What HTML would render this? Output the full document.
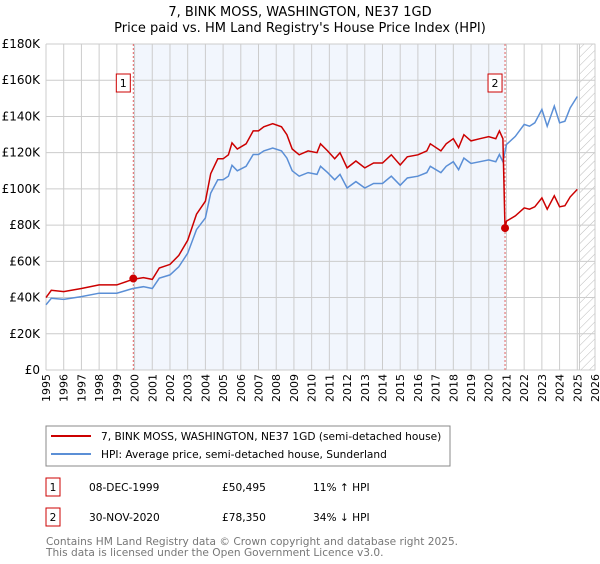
<!DOCTYPE html>
<html><head><meta charset="utf-8"><style>
body{margin:0;background:#fff;font-family:"DejaVu Sans","Liberation Sans",sans-serif;}
svg text{font-family:"DejaVu Sans","Liberation Sans",sans-serif;}
</style></head><body>
<svg id="c" width="600" height="560" xmlns="http://www.w3.org/2000/svg">
<text x="300" y="16" text-anchor="middle" font-size="13">7, BINK MOSS, WASHINGTON, NE37 1GD</text>
<text x="300" y="32" text-anchor="middle" font-size="13">Price paid vs. HM Land Registry's House Price Index (HPI)</text>
<g id="plot"></g>
<g>
<rect x="46" y="426" width="404" height="40" fill="#fff" stroke="#888"/>
<line x1="51" y1="436" x2="91" y2="436" stroke="#cc0000" stroke-width="2"/>
<text x="101" y="440" font-size="10.6">7, BINK MOSS, WASHINGTON, NE37 1GD (semi-detached house)</text>
<line x1="51" y1="454" x2="91" y2="454" stroke="#5b8fd6" stroke-width="2"/>
<text x="101" y="458" font-size="10.6">HPI: Average price, semi-detached house, Sunderland</text>
</g>
<g font-size="10.6">
<rect x="46" y="478" width="14" height="18" fill="#fff" stroke="#cc0000"/><text x="53" y="491" text-anchor="middle">1</text>
<text x="89" y="491">08-DEC-1999</text><text x="222" y="491">£50,495</text><text x="313" y="491">11% ↑ HPI</text>
<rect x="46" y="508" width="14" height="18" fill="#fff" stroke="#cc0000"/><text x="53" y="521" text-anchor="middle">2</text>
<text x="89" y="521">30-NOV-2020</text><text x="222" y="521">£78,350</text><text x="313" y="521">34% ↓ HPI</text>
</g>
<text x="46" y="545" font-size="10.6" fill="#777">Contains HM Land Registry data © Crown copyright and database right 2025.</text>
<text x="46" y="556" font-size="10.6" fill="#777">This data is licensed under the Open Government Licence v3.0.</text>
</svg>
<script>
const hpiYears=[1995,1995.3,1996,1997,1998,1999,1999.9,2000.5,2001,2001.4,2002,2002.5,2003,2003.5,2004,2004.3,2004.7,2005,2005.3,2005.5,2005.8,2006.3,2006.7,2007,2007.3,2007.8,2008.3,2008.6,2008.9,2009.3,2009.8,2010.3,2010.5,2010.9,2011.3,2011.6,2012,2012.5,2013,2013.5,2014,2014.5,2015,2015.4,2016,2016.5,2016.7,2017.3,2017.6,2018,2018.3,2018.6,2019,2019.5,2020,2020.4,2020.6,2020.8,2021,2021.5,2022,2022.3,2022.6,2023,2023.3,2023.7,2024,2024.3,2024.6,2025];
const hpiValues=[36,39.6,39,40.5,42.4,42.4,45,46,45,50.7,52.5,57,64.5,77.5,84,97.7,105,105,107,113,110,112.5,119,119,121,122.6,121,117,110,107,109,108,112.5,109,105,108,100.5,104,100.5,103,103,107,102,106,107,109,112.5,109,112.5,115,110.6,117,114,115,116,115,119,115,124.5,129,135.6,134.6,136.5,143.9,134.6,145.7,136.5,137.4,144.8,151];
const priceYears=[1995,1995.3,1996,1997,1998,1999,1999.9,2000.5,2001,2001.4,2002,2002.5,2003,2003.5,2004,2004.3,2004.7,2005,2005.3,2005.5,2005.8,2006.3,2006.7,2007,2007.3,2007.8,2008.3,2008.6,2008.9,2009.3,2009.8,2010.3,2010.5,2010.9,2011.3,2011.6,2012,2012.5,2013,2013.5,2014,2014.5,2015,2015.4,2016,2016.5,2016.7,2017.3,2017.6,2018,2018.3,2018.6,2019,2019.5,2020,2020.4,2020.6,2020.8,2020.92,2021,2021.5,2022,2022.3,2022.6,2023,2023.3,2023.7,2024,2024.3,2024.6,2025];
const priceValues=[40,44,43.3,45,47,47,50,51,50,56.3,58.3,63.3,71.6,86,93.2,108.4,116.6,116.6,118.8,125.4,122,124.9,132,132,134.3,136,134.3,129.9,122,118.8,121,120,124.9,121,116.6,120,111.6,115.4,111.6,114.3,114.3,118.8,113.2,117.7,118.8,121,124.9,121,124.9,127.7,122.8,129.9,126.5,127.7,128.8,127.7,132,127.7,78.35,82.2,85.1,89.5,88.8,90.1,95,88.8,96.2,90.1,90.7,95.6,99.7];
const saleYears=[1999.93,2020.92];
const saleValues=[50.495,78.35];
const saleLabels=["1","2"];
const yTicks=[0,20,40,60,80,100,120,140,160,180];
const yTickLabels=["£0","£20K","£40K","£60K","£80K","£100K","£120K","£140K","£160K","£180K"];
const xTicks=[1995,1996,1997,1998,1999,2000,2001,2002,2003,2004,2005,2006,2007,2008,2009,2010,2011,2012,2013,2014,2015,2016,2017,2018,2019,2020,2021,2022,2023,2024,2025,2026];
const hatchStart=2025.13;

const L=46,R=595,T=44,B=370,X0=1995,X1=2026,YMAX=180;
const sx=v=>L+(v-X0)/(X1-X0)*(R-L);
const sy=v=>B-v/YMAX*(B-T);
const NS="http://www.w3.org/2000/svg";
const g=document.getElementById('plot');
function mk(t,a){const e=document.createElementNS(NS,t);for(const k in a)e.setAttribute(k,a[k]);g.appendChild(e);return e;}
let e=mk('rect',{x:sx(saleYears[0]),y:T,width:sx(saleYears[1])-sx(saleYears[0]),height:B-T,fill:'#f2f6fd'});


const defs=document.createElementNS(NS,'defs');defs.innerHTML='<pattern id="h" width="6" height="6" patternUnits="userSpaceOnUse" patternTransform="rotate(45)"><line x1="0" y1="0" x2="0" y2="6" stroke="#bbb" stroke-width="1"/></pattern>';g.appendChild(defs);
e=mk('rect',{x:sx(hatchStart),y:T,width:R-sx(hatchStart),height:B-T,fill:'url(#h)',stroke:'#999','stroke-width':0.5});


xTicks.forEach(v=>{const x=sx(v);
 e=mk('line',{x1:x,y1:T,x2:x,y2:B,stroke:'#ccc','stroke-width':1});
 
 
 e=mk('text',{x:0,y:0,transform:`translate(${x+4},${B+4}) rotate(-90)`,'text-anchor':'end','font-size':11});
 e.textContent=v;
 
 });
yTicks.forEach((v,i)=>{const y=sy(v);
 e=mk('line',{x1:L,y1:y,x2:R,y2:y,stroke:'#ccc','stroke-width':1});
 
 
 e=mk('text',{x:L-6,y:y+4,'text-anchor':'end','font-size':12});
 e.textContent=yTickLabels[i];
 
 });
saleYears.forEach((v,i)=>{e=mk('line',{x1:sx(v),y1:T,x2:sx(v),y2:B,stroke:'#e06060','stroke-width':1,'stroke-dasharray':'2,2'});
 
 });
function path(xs,ys,col,name){const d=xs.map((x,i)=>(i?'L':'M')+sx(x).toFixed(1)+','+sy(ys[i]).toFixed(1)).join('');
 e=mk('path',{d:d,fill:'none',stroke:col,'stroke-width':1.5});
 
 }
path(hpiYears,hpiValues,'#5b8fd6','hpi-line');
path(priceYears,priceValues,'#cc0000','price-line');
saleYears.forEach((v,i)=>{e=mk('circle',{cx:sx(v),cy:sy(saleValues[i]),r:4,fill:'#cc0000'});
 
 
 const bx=sx(v)-10;
 e=mk('rect',{x:bx-7,y:74,width:14,height:18,fill:'#fff',stroke:'#cc0000'});
 
 
 e=mk('text',{x:bx,y:87,'text-anchor':'middle','font-size':11});
 e.textContent=saleLabels[i];
 
 });
</script>
</body></html>
